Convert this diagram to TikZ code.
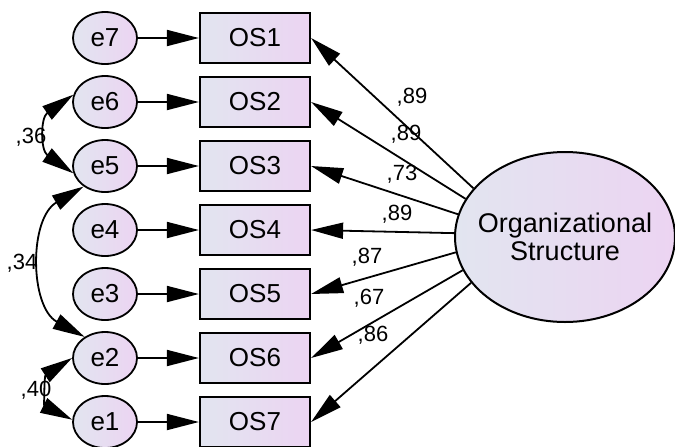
\documentclass[tikz,border=0pt]{standalone}
\usepackage{fontspec}
\setmainfont{Liberation Sans}
\usetikzlibrary{shapes.geometric, arrows.meta, positioning}
\definecolor{shadeleft}{RGB}{226,229,240}
\definecolor{shaderight}{RGB}{236,212,242}

\begin{document}
\begin{tikzpicture}[x=0.5pt, y=-0.5pt,
    errnode/.style={draw, ellipse, line width=0.9pt, left color=shadeleft, right color=shaderight,
        minimum width=32pt, minimum height=26pt, inner sep=0pt, font=\fontsize{13}{15}\selectfont},
    itemnode/.style={draw, rectangle, line width=1.1pt, left color=shadeleft, right color=shaderight,
        minimum width=55pt, minimum height=25pt, inner sep=0pt, font=\fontsize{13}{15}\selectfont},
    factornode/.style={draw, ellipse, line width=1pt, left color=shadeleft, right color=shaderight,
        minimum width=110pt, minimum height=85pt, inner xsep=-6pt, inner ysep=0pt, align=center,
        font=\fontsize{13.5}{14}\selectfont},
    pathline/.style={-{Triangle[length=16pt, width=8pt]}, line width=0.9pt},
    covline/.style={{Triangle[length=16pt, width=8pt]}-{Triangle[length=16pt, width=8pt]}, line width=0.9pt},
    coef/.style={inner sep=0pt, font=\fontsize{11}{12}\selectfont}]

    \useasboundingbox (0,0) rectangle (675,446);

    % Latent factor
    \node[factornode] (org) at (565,237) {Organizational\\Structure};

    % Items with their error terms
    \foreach \i/\e/\y in {1/7/38, 2/6/102, 3/5/166, 4/4/230, 5/3/294, 6/2/358, 7/1/422} {
        \node[itemnode] (os\i) at (255,\y) {OS\i};
        \node[errnode] (e\e) at (105,\y) {e\e};
        \draw[pathline] (e\e) -- (os\i);
    }

    % Loadings
    \foreach \i/\a/\v/\lx/\ly in {1/152/89/412/97, 2/159/89/406/134, 3/168/73/402/174,
            4/178/89/397/214, 5/188/87/367/257, 6/198/67/369/298, 7/206/86/373/335} {
        \draw[pathline] (org.\a) -- (os\i.east);
        \node[coef] (l\i) at (\lx,\ly) {,\v};
    }

    % Error covariances
    \draw[covline] (e6.167) .. controls +(-33,23) and +(-33,-23) .. (e5.193);
    \node[coef] (c65) at (31,137) {,36};

    \draw[covline] (e5.224) .. controls +(-55,32) and +(-55,-30) .. (e2.134);
    \node[coef] (c52) at (22,263) {,34};

    \draw[covline] (e2.180) .. controls +(-28,18) and +(-28,-14) .. (e1.176);
    \node[coef] (c21) at (36,390) {,40};
\end{tikzpicture}
\end{document}
